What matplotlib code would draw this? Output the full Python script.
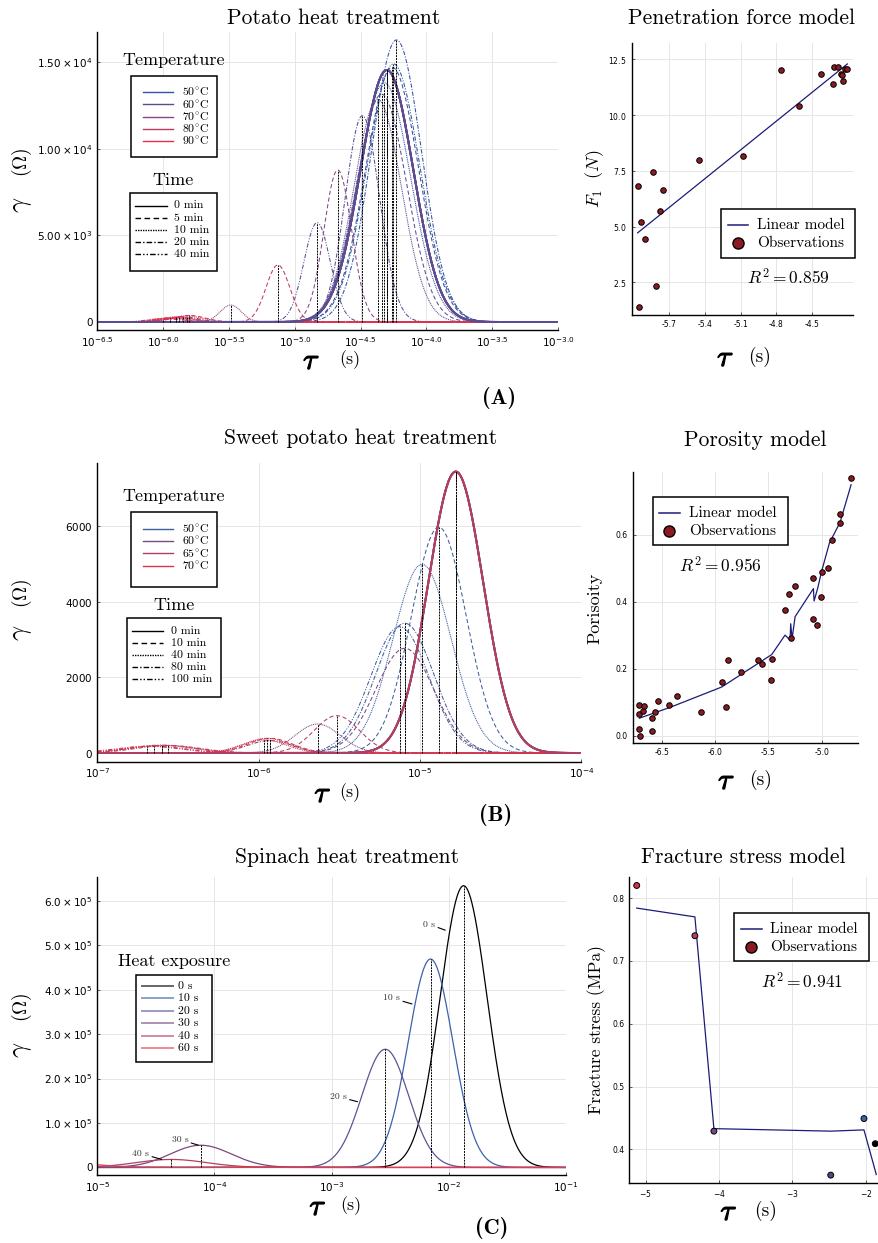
import numpy as np
import matplotlib
matplotlib.use('Agg')
import matplotlib.pyplot as plt
from matplotlib.lines import Line2D
from matplotlib.patches import Rectangle
from matplotlib.ticker import NullLocator
import matplotlib.patheffects as pe

plt.rcParams['mathtext.fontset'] = 'dejavusans'
plt.rcParams['axes.formatter.use_mathtext'] = True

# ---------------------------------------------------------------- data
# (A) Potato: DRT peaks per temperature x time  (log10 tau, height, width in decades)
potato_temps = ['50°C', '60°C', '70°C', '80°C', '90°C']
potato_times = ['0 min', '5 min', '10 min', '20 min', '40 min']
potato_colors = ['#34549f', '#5a4d93', '#8a4580', '#c23a5c', '#e6304a']
potato_logtau = [[-4.30, -4.26, -4.32, -4.227, -4.25],
                 [-4.30, -4.34, -4.37, -4.486, -4.83],
                 [-4.30, -4.673, -5.486, -5.85, -5.90],
                 [-4.30, -5.128, -5.82, -5.88, -5.95],
                 [-4.30, -5.80, -5.90, -5.95, -6.00]]
potato_height = [[14540, 14700, 13800, 16270, 14890],
                 [14540, 13140, 12850, 11900, 5730],
                 [14540, 8770, 980, 300, 250],
                 [14540, 3290, 350, 280, 200],
                 [14540, 380, 300, 250, 200]]
potato_width = [[0.20, 0.20, 0.20, 0.19, 0.20],
                [0.20, 0.19, 0.18, 0.13, 0.10],
                [0.20, 0.105, 0.08, 0.12, 0.12],
                [0.20, 0.09, 0.12, 0.12, 0.12],
                [0.20, 0.12, 0.12, 0.12, 0.12]]
potato_xticks = [-6.5, -6.0, -5.5, -5.0, -4.5, -4.0, -3.5, -3.0]
potato_yticks = [0, 5000, 10000, 15000]
potato_ylabels = ['0', r'$5.00\times10^{3}$', r'$1.00\times10^{4}$', r'$1.50\times10^{4}$']

# (B) Sweet potato
sweet_temps = ['50°C', '60°C', '65°C', '70°C']
sweet_times = ['0 min', '10 min', '40 min', '80 min', '100 min']
sweet_colors = ['#3f5d9f', '#7a4a7f', '#b0405f', '#e0334a']
sweet_logtau = [[-4.779, -4.884, -4.988, -5.095, -5.126],
                [-4.779, -5.095, -5.635, -5.93, -6.60],
                [-4.779, -5.516, -5.95, -6.56, -6.65],
                [-4.779, -5.93, -5.97, -6.60, -6.69]]
sweet_height = [[7452, 5979, 4998, 3436, 3346],
                [7452, 2773, 768, 330, 210],
                [7452, 989, 389, 200, 180],
                [7452, 389, 350, 200, 180]]
sweet_width = [[0.17, 0.17, 0.18, 0.18, 0.18],
               [0.17, 0.18, 0.14, 0.14, 0.20],
               [0.17, 0.14, 0.14, 0.20, 0.20],
               [0.17, 0.14, 0.14, 0.20, 0.20]]
sweet_xticks = [-7, -6, -5, -4]
sweet_yticks = [0, 2000, 4000, 6000]

# (C) Spinach
spin_labels = ['0 s', '10 s', '20 s', '30 s', '40 s', '60 s']
spin_colors = ['#000000', '#3d62ad', '#5e5495', '#7d4680', '#b2405e', '#e33a4c']
spin_logtau = [-1.872, -2.154, -2.541, -4.116, -4.367, -5.30]
spin_height = [6.34e5, 4.69e5, 2.66e5, 0.50e5, 0.18e5, 0.10e5]
spin_width = [0.20, 0.19, 0.20, 0.26, 0.30, 0.30]
spin_xticks = [-5, -4, -3, -2, -1]
spin_yticks = [0, 1e5, 2e5, 3e5, 4e5, 5e5, 6e5]
spin_ylabels = ['0'] + [r'$%d.0\times10^{5}$' % k for k in range(1, 7)]

# Penetration force model
pen_tau = [-5.966, -5.938, -5.904, -5.952, -5.84, -5.812, -5.776, -5.756, -5.451,
           -5.078, -4.762, -4.608, -4.428, -4.322, -4.313, -4.285, -4.26, -4.252,
           -4.241, -4.224, -4.204]
pen_force = [6.82, 5.19, 4.43, 1.38, 7.43, 2.34, 5.70, 6.64, 7.99,
             8.18, 12.04, 10.41, 11.83, 11.38, 12.17, 12.16, 11.83, 11.80,
             11.54, 12.05, 12.05]
pen_slope, pen_intercept = 4.30, 30.37

# Porosity model
por_tau = [-6.709, -6.709, -6.709, -6.70, -6.678, -6.663, -6.591, -6.591, -6.563,
           -6.531, -6.428, -6.359, -6.134, -5.931, -5.90, -5.875, -5.759, -5.597,
           -5.559, -5.475, -5.469, -5.347, -5.306, -5.284, -5.25, -5.078, -5.078,
           -5.047, -5.006, -4.997, -4.941, -4.906, -4.831, -4.825, -4.725]
por_val = [0.093, 0.065, 0.021, 0.001, 0.074, 0.089, 0.054, 0.015, 0.070,
           0.105, 0.093, 0.120, 0.070, 0.162, 0.085, 0.226, 0.192, 0.228,
           0.215, 0.167, 0.230, 0.376, 0.425, 0.291, 0.447, 0.471, 0.350,
           0.331, 0.414, 0.489, 0.500, 0.585, 0.635, 0.662, 0.769]
por_model_tau = [-6.709, -6.416, -5.938, -5.469, -5.344, -5.297, -5.291, -5.278,
                 -5.25, -5.078, -5.072, -5.038, -5.0, -4.928, -4.828, -4.725]
por_model_val = [0.053, 0.086, 0.146, 0.243, 0.301, 0.286, 0.335, 0.290,
                 0.356, 0.440, 0.403, 0.441, 0.493, 0.576, 0.638, 0.750]

# Fracture stress model
fr_tau = [-5.122, -4.329, -4.07, -2.478, -2.025, -1.871]
fr_stress = [0.82, 0.74, 0.429, 0.359, 0.449, 0.409]
fr_colors = ['#d6304a', '#b0405e', '#7d4680', '#4a4a80', '#3d62ad', '#000000']
fr_model_tau = [-5.122, -4.329, -4.07, -2.478, -2.025, -1.857]
fr_model_val = [0.784, 0.770, 0.433, 0.429, 0.431, 0.360]

# ---------------------------------------------------------------- helpers
W, H = 879, 1243
fig = plt.figure(figsize=(W / 100, H / 100), dpi=100)
fig.patch.set_facecolor('white')

time_styles = ['-', (0, (4, 2.5)), (0, (1, 0.8)), (0, (4, 1.5, 1, 1.5)),
               (0, (4, 1.5, 1, 1.5, 1, 1.5))]
OBS = '#8b1a22'
MODEL = '#1c1c78'
GRID = '#e6e6e6'
CM = 'cmr10'


def fx(x):
    return x / W


def fy(y):
    return 1 - y / H


def add_ax(l, t, r, b):
    ax = fig.add_axes([fx(l), fy(b), (r - l) / W, (b - t) / H])
    for s in ['top', 'right']:
        ax.spines[s].set_visible(False)
    for s in ['left', 'bottom']:
        ax.spines[s].set_linewidth(1.0)
    ax.grid(True, color=GRID, lw=0.7)
    ax.set_axisbelow(True)
    ax.tick_params(direction='in', length=2.5, width=0.6, color='#444444')
    return ax


def ftext(x, y, s, **kw):
    return fig.text(fx(x), fy(y), s, **kw)


def tau_label(xt, xs, y, fs_s=13):
    ftext(xt, y + 3, r'$\tau$', fontsize=21, ha='center', va='center', math_fontfamily='cm',
          path_effects=[pe.withStroke(linewidth=0.9, foreground='black')])
    ftext(xs, y + 2, '(s)', family=CM, fontsize=fs_s, ha='center', va='center')


def gamma_label(x, yg, yo):
    ftext(x, yg, r'$\gamma$', fontsize=19, rotation=90, ha='center', va='center',
          math_fontfamily='cm')
    ftext(x + 1.5, yo, r'$(\Omega)$', fontsize=14, rotation=90, ha='center', va='center',
          math_fontfamily='cm')


def box(x0, y0, x1, y1):
    fig.add_artist(Rectangle((fx(x0), fy(y1)), (x1 - x0) / W, (y1 - y0) / H,
                             transform=fig.transFigure, facecolor='white',
                             edgecolor='black', lw=1.1, zorder=5))


def line_entry(xa, xb, xt, y, label, color, ls, fs, lw=1.0, alpha=1.0):
    fig.add_artist(Line2D([fx(xa), fx(xb)], [fy(y), fy(y)], transform=fig.transFigure,
                          color=color, ls=ls, lw=lw, alpha=alpha, zorder=6))
    t = ftext(xt, y, label, family=CM, fontsize=fs, ha='left', va='center', zorder=6,
              math_fontfamily='cm')
    return t


def marker_entry(xm, xt, y, label, fs):
    fig.add_artist(Line2D([fx(xm)], [fy(y)], transform=fig.transFigure, marker='o',
                          ms=8, mfc=OBS, mec='black', mew=1.0, ls='none', zorder=6))
    ftext(xt, y, label, family=CM, fontsize=fs, ha='left', va='center', zorder=6)


def deg(label):
    return label.replace('°C', r'$^{\circ}$C')


def peak(tau, c, h, w):
    return h * np.exp(-0.5 * ((np.log10(tau) - c) / w) ** 2)


def style_log_xticks(ax, exps, fmt):
    ax.set_xticks([10.0 ** e for e in exps])
    ax.set_xticklabels([fmt(e) for e in exps])
    ax.xaxis.set_minor_locator(NullLocator())


# ---------------------------------------------------------------- (A) Potato left
axA = add_ax(97.3, 32, 558, 330)
tauA = np.logspace(-6.5, -3.0, 800)
for i in range(len(potato_temps)):
    for j in range(1, len(potato_times)):
        c, h, w = potato_logtau[i][j], potato_height[i][j], potato_width[i][j]
        axA.plot(tauA, peak(tauA, c, h, w), color=potato_colors[i], ls=time_styles[j],
                 lw=0.75)
for i in [4, 3, 2, 0, 1]:
    c, h, w = potato_logtau[i][0], potato_height[i][0], potato_width[i][0]
    axA.plot(tauA, peak(tauA, c, h, w), color=potato_colors[i], ls=time_styles[0], lw=1.4)
for i in range(len(potato_temps)):
    for j in range(len(potato_times)):
        c, h = potato_logtau[i][j], potato_height[i][j]
        axA.plot([10 ** c, 10 ** c], [0, h], color='black', ls=(0, (2, 1)), lw=0.7)
axA.set_xscale('log')
axA.set_xlim(10 ** -6.5, 10 ** -3.0)
axA.set_ylim(-460, 16730)
style_log_xticks(axA, potato_xticks, lambda e: r'$10^{%.1f}$' % e)
axA.set_yticks(potato_yticks)
axA.set_yticklabels(potato_ylabels)
axA.tick_params(labelsize=7.5)

ftext(333.5, 18, 'Potato heat treatment', family=CM, fontsize=15.5, ha='center', va='center')
tau_label(311.7, 350, 358)
gamma_label(20.5, 205, 162)

ftext(173.3, 60, 'Temperature', family=CM, fontsize=13, ha='center', va='center', zorder=6)
box(130.7, 75.7, 217.3, 157.3)
for k, lab in enumerate(potato_temps):
    line_entry(142.7, 173.3, 181.7, 92.3 + 12.1 * k, deg(lab), potato_colors[k], '-', 8.5)
ftext(173.3, 180, 'Time', family=CM, fontsize=13, ha='center', va='center', zorder=6)
box(130, 192.7, 217.3, 270.7)
for k, lab in enumerate(potato_times):
    line_entry(135, 166.7, 174.3, 205.7 + 12.1 * k, lab, 'black', time_styles[k], 8.5)

# ---------------------------------------------------------------- Penetration force
axAr = add_ax(631.7, 43.3, 853.3, 315)
axAr.scatter(pen_tau, pen_force, s=16, c=OBS, edgecolors='black', linewidths=0.7, zorder=3)
xl = np.array([min(pen_tau), max(pen_tau)])
axAr.plot(xl, pen_intercept + pen_slope * xl, color=MODEL, lw=0.9, zorder=2)
axAr.set_xlim(-6.016, -4.154)
axAr.set_ylim(1.03, 13.22)
axAr.set_xticks([-5.7, -5.4, -5.1, -4.8, -4.5])
axAr.set_yticks([2.5, 5.0, 7.5, 10.0, 12.5])
axAr.xaxis.set_major_formatter(matplotlib.ticker.FormatStrFormatter('%.1f'))
axAr.tick_params(labelsize=5.5)
ftext(742, 18, 'Penetration force model', family=CM, fontsize=15.5, ha='center', va='center')
tau_label(725.7, 760, 355, fs_s=14)
ftext(595, 179, r'$F_{1}\ \ (N)$', fontsize=13, rotation=90, ha='center', va='center',
      math_fontfamily='cm')
box(721, 209, 855, 257.7)
line_entry(727.7, 748.3, 756.7, 225, 'Linear model', MODEL, '-', 11, lw=1.1)
marker_entry(738, 756.7, 243.3, 'Observations', 11)
ftext(788.3, 278.3, r'$R^2 = 0.859$', fontsize=12.5, ha='center', va='center',
      math_fontfamily='cm')
ftext(499, 398, '(A)', family='cmb10', fontsize=16, ha='center', va='center')

# ---------------------------------------------------------------- (B) Sweet potato left
axB = add_ax(97.3, 463, 581.5, 761.7)
tauB = np.logspace(-7, -4, 800)
for i in range(len(sweet_temps)):
    for j in range(1, len(sweet_times)):
        c, h, w = sweet_logtau[i][j], sweet_height[i][j], sweet_width[i][j]
        axB.plot(tauB, peak(tauB, c, h, w), color=sweet_colors[i], ls=time_styles[j],
                 lw=0.75)
for i in [0, 3, 1, 2]:
    c, h, w = sweet_logtau[i][0], sweet_height[i][0], sweet_width[i][0]
    axB.plot(tauB, peak(tauB, c, h, w), color=sweet_colors[i], ls=time_styles[0], lw=1.4)
for i in range(len(sweet_temps)):
    for j in range(len(sweet_times)):
        c, h = sweet_logtau[i][j], sweet_height[i][j]
        axB.plot([10 ** c, 10 ** c], [0, h], color='black', ls=(0, (2, 1)), lw=0.7)
axB.set_xscale('log')
axB.set_xlim(1e-7, 1e-4)
axB.set_ylim(-230, 7680)
style_log_xticks(axB, sweet_xticks, lambda e: r'$10^{%d}$' % e)
axB.set_yticks(sweet_yticks)
axB.tick_params(labelsize=7.5)
ftext(361, 438, 'Sweet potato heat treatment', family=CM, fontsize=15.5, ha='center', va='center')
tau_label(323, 350, 791)
gamma_label(20.5, 633, 593)

ftext(174, 496.7, 'Temperature', family=CM, fontsize=13, ha='center', va='center', zorder=6)
box(130.7, 512, 217.3, 586.7)
for k, lab in enumerate(sweet_temps):
    line_entry(142.7, 173.3, 181.7, 529 + 12.2 * k, deg(lab), sweet_colors[k], '-', 8.5)
ftext(174.3, 605, 'Time', family=CM, fontsize=13, ha='center', va='center', zorder=6)
box(127.3, 617.7, 221.3, 696.7)
for k, lab in enumerate(sweet_times):
    line_entry(132.3, 163.3, 171, 631 + 12 * k, lab, 'black', time_styles[k], 8.5)

# ---------------------------------------------------------------- Porosity model
axBr = add_ax(632.7, 471.7, 857.7, 743.3)
axBr.scatter(por_tau, por_val, s=16, c=OBS, edgecolors='black', linewidths=0.7, zorder=3)
axBr.plot(por_model_tau, por_model_val, color=MODEL, lw=0.9, zorder=2)
axBr.set_xlim(-6.772, -4.663)
axBr.set_ylim(-0.022, 0.789)
axBr.set_xticks([-6.5, -6.0, -5.5, -5.0])
axBr.set_yticks([0.0, 0.2, 0.4, 0.6])
axBr.xaxis.set_major_formatter(matplotlib.ticker.FormatStrFormatter('%.1f'))
axBr.yaxis.set_major_formatter(matplotlib.ticker.FormatStrFormatter('%.1f'))
axBr.tick_params(labelsize=5.5)
ftext(755, 440, 'Porosity model', family=CM, fontsize=15.5, ha='center', va='center')
tau_label(726.7, 761, 778, fs_s=14)
ftext(595, 608, 'Porisoity', family=CM, fontsize=13, rotation=90, ha='center', va='center')
box(653.3, 497.3, 787.7, 545.3)
line_entry(659, 680, 689.3, 512.7, 'Linear model', MODEL, '-', 11, lw=1.1)
marker_entry(669.3, 689.3, 531, 'Observations', 11)
ftext(720.7, 566.7, r'$R^2 = 0.956$', fontsize=12.5, ha='center', va='center',
      math_fontfamily='cm')
ftext(496, 815, '(B)', family='cmb10', fontsize=16, ha='center', va='center')

# ---------------------------------------------------------------- (C) Spinach left
axC = add_ax(97.3, 877.3, 565.7, 1175)
tauC = np.logspace(-5, -1, 800)
for k in range(len(spin_labels)):
    axC.plot(tauC, peak(tauC, spin_logtau[k], spin_height[k], spin_width[k]),
             color=spin_colors[k], lw=0.9)
for k in range(len(spin_labels)):
    c, h = spin_logtau[k], spin_height[k]
    axC.plot([10 ** c, 10 ** c], [0, h], color='black', ls=(0, (2, 1)), lw=0.7)
axC.set_xscale('log')
axC.set_xlim(1e-5, 1e-1)
axC.set_ylim(-0.17e5, 6.53e5)
style_log_xticks(axC, spin_xticks, lambda e: r'$10^{%d}$' % e)
axC.set_yticks(spin_yticks)
axC.set_yticklabels(spin_ylabels)
axC.tick_params(labelsize=7.5)

# curve annotations (label position, point on curve)
ann_text = [(-2.114, 5.47e5), (-2.413, 3.81e5), (-2.869, 1.59e5), (-4.222, 0.63e5),
            (-4.556, 0.315e5)]
ann_point = [(-2.028, 5.34e5), (-2.313, 3.68e5), (-2.778, 1.48e5), (-4.137, 0.50e5),
             (-4.45, 0.18e5)]
for k in range(5):
    axC.annotate(spin_labels[k], xy=(10 ** ann_point[k][0], ann_point[k][1]),
                 xytext=(10 ** ann_text[k][0], ann_text[k][1]), family=CM, fontsize=7,
                 ha='right', va='center', color='#333333',
                 arrowprops=dict(arrowstyle='-', color='black', lw=0.8,
                                 shrinkA=0, shrinkB=0))
ftext(347, 857, 'Spinach heat treatment', family=CM, fontsize=15.5, ha='center', va='center')
tau_label(318, 351, 1204)
gamma_label(20.5, 1050, 1007)

ftext(174, 961, 'Heat exposure', family=CM, fontsize=13, ha='center', va='center', zorder=6)
box(136, 975, 212.3, 1061.7)
for k, lab in enumerate(spin_labels):
    line_entry(141.7, 172.7, 177.7, 986 + 12.45 * k, lab, spin_colors[k], '-', 8.5,
               lw=1.4, alpha=0.6)

# ---------------------------------------------------------------- Fracture stress model
axCr = add_ax(629.3, 877.3, 879, 1183.3)
axCr.scatter(fr_tau, fr_stress, s=18, c=fr_colors, edgecolors='black', linewidths=0.7,
             zorder=3, clip_on=False)
axCr.plot(fr_model_tau, fr_model_val, color=MODEL, lw=0.9, zorder=2)
axCr.set_xlim(-5.223, -1.82)
axCr.set_ylim(0.346, 0.833)
axCr.set_xticks([-5, -4, -3, -2])
axCr.set_yticks([0.4, 0.5, 0.6, 0.7, 0.8])
axCr.yaxis.set_major_formatter(matplotlib.ticker.FormatStrFormatter('%.1f'))
axCr.tick_params(labelsize=5.5)
ftext(743, 857, 'Fracture stress model', family=CM, fontsize=15.5, ha='center', va='center')
tau_label(729, 766, 1209, fs_s=14)
ftext(596.7, 1030, 'Fracture stress (MPa)', family=CM, fontsize=12.5, rotation=90,
      ha='center', va='center')
box(734.3, 913.3, 868.7, 960.7)
line_entry(740.7, 761.7, 770, 929, 'Linear model', MODEL, '-', 11, lw=1.1)
marker_entry(751, 770, 947.3, 'Observations', 11)
ftext(801.7, 982.3, r'$R^2 = 0.941$', fontsize=12.5, ha='center', va='center',
      math_fontfamily='cm')
ftext(492, 1228, '(C)', family='cmb10', fontsize=16, ha='center', va='center')

fig.savefig('out.png', dpi=100, facecolor='white')
